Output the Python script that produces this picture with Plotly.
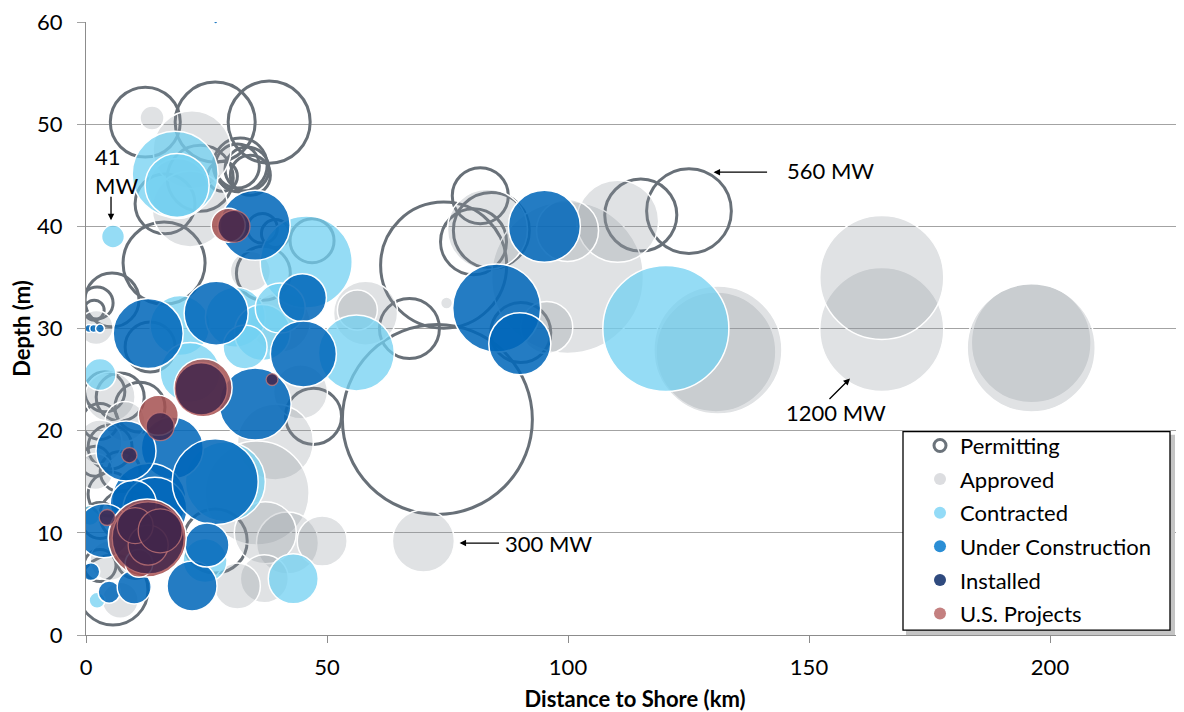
#offshore wind projects - depth vs distance to shore bubble chart
#%%
import plotly.graph_objects as go

#%% data (distance km, depth m, capacity MW) per project status
permit_x = [12.3, 26.8, 38.0, 32.0, 33.4, 31.4, 28.3, 34.1, 23.7, 16.4, 16.2, 36.8, 5.4, 2.3, 1.7,
            74.2, 81.8, 80.4, 84.1, 115.1, 125.1, 67.1, 72.9, 47.2, 90.2, 26.8, 5.6, 46.9, 3.9,
            7.1, 11.2, 2.9, 5.0, 1.9, 5.0, 2.9, 7.1, 10.2, 2.9, 8.1, 13.3, 36.6, 39.3]
permit_y = [50.2, 50.2, 50.2, 46.0, 45.6, 45.9, 44.9, 45.0, 44.7, 42.2, 36.4, 35.4, 32.8, 32.5, 31.8,
            36.2, 43.0, 38.5, 39.6, 41.1, 41.5, 30.0, 21.1, 21.4, 29.6, 9.2, 4.4, 38.6, 23.8,
            23.3, 22.3, 20.9, 18.4, 17.0, 13.8, 11.2, 16.0, 7.3, 6.8, 11.7, 28.2, 39.8, 39.3]
permit_mw = [382, 500, 525, 227, 151, 151, 70, 125, 340, 280, 525, 227, 227, 80, 31,
             1240, 245, 340, 450, 405, 560, 281, 2815, 245, 281, 320, 382, 151, 125,
             180, 195, 101, 151, 70, 151, 101, 125, 101, 80, 195, 195, 70, 61]

approved_x = [13.7, 22.0, 21.6, 19.1, 2.1, 58.0, 56.3, 44.5, 39.3, 35.5, 41.8, 49.0, 37.2, 37.0, 31.4,
              70.0, 99.9, 110.3, 99.9, 83.3, 95.6, 74.8, 130.7, 131.1, 165.1, 165.1, 196.1, 196.1,
              5.0, 8.1, 2.9, 1.9, 5.0, 7.1, 40.3, 34.1]
approved_y = [50.6, 47.5, 41.7, 43.7, 30.1, 31.5, 31.8, 23.8, 18.9, 13.9, 9.0, 9.2, 10.0, 5.5, 4.8,
              9.2, 35.0, 40.5, 39.6, 39.7, 30.1, 32.5, 27.7, 27.9, 29.9, 35.0, 28.6, 28.1,
              23.3, 20.9, 18.9, 16.0, 7.3, 3.4, 30.6, 35.6]
approved_mw = [45, 475, 450, 281, 90, 320, 125, 227, 450, 844, 300, 195, 300, 180, 165,
               300, 1800, 525, 300, 500, 211, 11, 1120, 1280, 1200, 1200, 1120, 1280,
               195, 125, 151, 101, 125, 101, 281, 125]

contracted_x = [5.6, 18.5, 18.9, 45.7, 19.5, 2.9, 21.6, 56.1, 31.0, 36.6, 33.0, 28.9, 24.7, 43.0,
                2.3, 120.3, 0.8, 40.3]
contracted_y = [39.0, 45.1, 44.0, 36.5, 30.3, 25.5, 25.7, 27.6, 31.1, 29.6, 28.2, 15.0, 7.3, 5.5,
                3.4, 30.0, 11.7, 32.0]
contracted_mw = [41, 577, 320, 660, 281, 80, 281, 450, 281, 245, 151, 500, 151, 195,
                 20, 1240, 31, 195]

uc_x = [35.1, 12.9, 27.0, 0.6, 1.6, 2.9, 44.9, 45.1, 35.1, 17.9, 13.1, 14.3, 9.8, 8.3, 26.8,
        3.7, 1.0, 4.8, 10.0, 22.0, 25.1, 95.1, 85.2, 90.0, 26.9]
uc_y = [40.1, 29.5, 31.5, 30.0, 30.0, 30.0, 33.0, 27.5, 22.6, 18.3, 13.2, 12.3, 12.9, 18.0, 15.0,
        10.2, 6.2, 4.2, 4.7, 4.8, 8.8, 40.0, 32.0, 28.5, 60.0]
uc_mw = [382, 382, 320, 5, 5, 6, 180, 340, 404, 300, 427, 320, 165, 281, 577,
         227, 25, 38, 90, 195, 151, 404, 604, 300, 1]

installed_x = [30.7, 23.9, 38.6, 9.0, 4.4, 12.9, 12.9, 10.2, 15.4, 15.4]
installed_y = [40.0, 24.1, 25.0, 17.6, 11.5, 9.5, 8.8, 10.7, 10.2, 20.4]
installed_mw = [80, 211, 11, 18, 20, 404, 125, 101, 151, 61]

us_x = [29.5, 24.3, 15.0, 12.7, 11.0]
us_y = [40.1, 24.2, 21.5, 9.5, 7.0]
us_mw = [90, 262, 125, 475, 60]

status_names = ["Permitting", "Approved", "Contracted", "Under Construction", "Installed", "U.S. Projects"]
legend_colors = ["#6b737b", "#dcdde0", "#93dbf7", "#2b8ed5", "#2f4a7e", "#c48080"]

#%%
SIZEREF = 0.156
FONT = "Lato"
FS = 22

fig = go.Figure()

def bubbles(x, y, mw, fill, edge, edge_w):
    fig.add_trace(go.Scatter(
        x=x, y=y, mode="markers", showlegend=False, hoverinfo="x+y+text",
        text=[f"{m} MW" for m in mw],
        marker=dict(size=mw, sizemode="area", sizeref=SIZEREF, sizemin=2, opacity=1,
                    color=fill, line=dict(color=edge, width=edge_w))))

bubbles(permit_x, permit_y, permit_mw, "rgba(0,0,0,0)", "#687078", 3)
bubbles(approved_x, approved_y, approved_mw, "rgba(145,150,158,0.28)", "white", 1.5)
bubbles(contracted_x, contracted_y, contracted_mw, "rgba(114,208,242,0.75)", "white", 1.5)
bubbles(uc_x, uc_y, uc_mw, "rgba(0,102,185,0.86)", "white", 1.5)
bubbles(us_x, us_y, us_mw, "rgba(165,80,80,0.85)", "white", 1.5)
bubbles(installed_x, installed_y, installed_mw, "rgba(66,38,76,0.86)", "rgba(200,120,120,0.75)", 1.3)

# legend entries
for i, (name, col) in enumerate(zip(status_names, legend_colors)):
    if i == 0:
        mk = dict(symbol="circle-open", size=12, color=col, line=dict(width=3, color=col))
    else:
        mk = dict(symbol="circle", size=12, color=col)
    fig.add_trace(go.Scatter(x=[None], y=[None], mode="markers", name=name,
                             legendgroup=name, marker=mk))

#%% legend box + shadow (plot area spans px 86..1184 x, 17..635 y)
def px_x(p):
    return (p - 86) / 1098

def px_y(p):
    return (635 - p) / 618

fig.add_shape(type="rect", xref="paper", yref="paper", layer="above",
              x0=px_x(906), x1=px_x(1175), y0=px_y(635), y1=px_y(433),
              fillcolor="#c4c4c4", line=dict(width=0))
fig.add_shape(type="rect", xref="paper", yref="paper", layer="above",
              x0=px_x(903), x1=px_x(1170), y0=px_y(630), y1=px_y(430),
              fillcolor="white", line=dict(color="black", width=1.3))

#%% annotations
arrows = [(5.19, 40.6, 0, -25), (130.2, 45.3, 55, 0), (158.5, 25.1, -22, 22), (77.5, 9.0, 41, 0)]
for x, y, ax, ay in arrows:
    fig.add_annotation(x=x, y=y, ax=ax, ay=ay, text="", showarrow=True,
                       arrowhead=2, arrowsize=1, arrowwidth=1.3, arrowcolor="black")

labels = [(1.5, 45.4, "41<br>MW"), (145.0, 45.5, "560 MW"), (144.8, 21.75, "1200 MW"), (86.6, 8.93, "300 MW")]
for x, y, t in labels:
    fig.add_annotation(x=x, y=y, text=t, showarrow=False, xanchor="left", yanchor="middle",
                       align="left", font=dict(size=FS, color="black", family=FONT))

#%% layout (page body has 8px margin, so the figure is shrunk by that)
fig.update_layout(
    width=1176, height=704,
    margin=dict(l=78, r=0, t=9, b=77),
    plot_bgcolor="white", paper_bgcolor="white",
    font=dict(family=FONT, size=FS, color="black"),
    legend=dict(x=px_x(920), y=px_y(423), xanchor="left", yanchor="top",
                bgcolor="rgba(0,0,0,0)", borderwidth=0, tracegroupgap=2,
                font=dict(size=FS, family=FONT)),
    xaxis=dict(range=[0, 227.8], tickvals=[0, 50, 100, 150, 200], showgrid=False,
               showline=True, linecolor="#8c8c8c", linewidth=1.3, zeroline=False,
               ticks="outside", ticklen=7, tickcolor="#8c8c8c", tickwidth=1.3,
               ticklabelstandoff=5, ticklabeloverflow="allow",
               title=dict(text="<b>Distance to Shore (km)</b>", standoff=14,
                          font=dict(size=FS, family=FONT))),
    yaxis=dict(range=[0, 60], dtick=10, showgrid=True, gridcolor="#a3a3a3", gridwidth=1.3,
               showline=True, linecolor="#8c8c8c", linewidth=1.3, zeroline=False,
               ticks="outside", ticklen=8, tickcolor="#a3a3a3", tickwidth=1.3,
               ticklabelstandoff=10, ticklabeloverflow="allow",
               title=dict(text="<b>Depth (m)</b>", standoff=8,
                          font=dict(size=FS, family=FONT))),
)

fig.write_html("out.html")
